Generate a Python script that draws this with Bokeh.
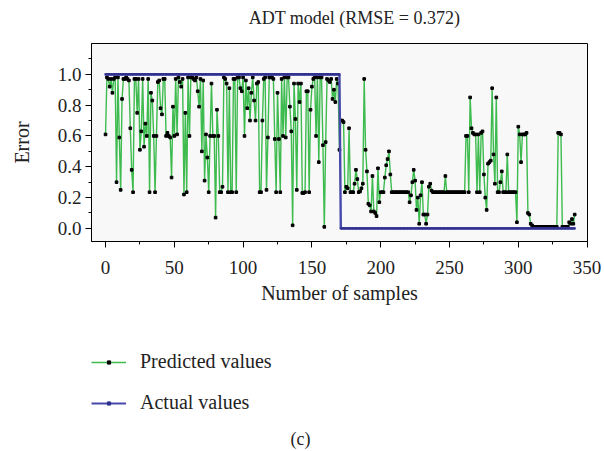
from bokeh.plotting import figure
from bokeh.layouts import column
from bokeh.models import (Range1d, SingleIntervalTicker, NumeralTickFormatter,
                          Legend, LegendItem, Label, ColumnDataSource)
from bokeh.embed import file_html
from bokeh.resources import INLINE

FONT = "Liberation Serif"

title_text = "ADT model (RMSE = 0.372)"
x_label = "Number of samples"
y_label = "Error"
series_names = ["Predicted values", "Actual values"]
panel_tag = "(c)"

predicted = [
    0.61, 0.98, 0.97, 0.92, 0.97, 0.88, 0.97, 0.98, 0.30, 0.98,
    0.59, 0.25, 0.84, 0.97, 0.97, 0.98, 0.97, 0.96, 0.65, 0.38,
    0.235, 0.97, 0.97, 0.75, 0.97, 0.51, 0.63, 0.97, 0.53, 0.68,
    0.60, 0.97, 0.235, 0.88, 0.83, 0.60, 0.235, 0.60, 0.95, 0.96,
    0.78, 0.74, 0.97, 0.97, 0.60, 0.62, 0.60, 0.59, 0.33, 0.79,
    0.60, 0.97, 0.61, 0.98, 0.95, 0.92, 0.97, 0.22, 0.75, 0.235,
    0.98, 0.60, 0.98, 0.98, 0.97, 0.96, 0.98, 0.89, 0.79, 0.97,
    0.50, 0.96, 0.31, 0.61, 0.46, 0.235, 0.60, 0.94, 0.60, 0.60,
    0.07, 0.77, 0.60, 0.235, 0.235, 0.27, 0.98, 0.97, 0.94, 0.235,
    0.91, 0.235, 0.235, 0.97, 0.97, 0.235, 0.98, 0.98, 0.91, 0.89,
    0.98, 0.60, 0.96, 0.78, 0.91, 0.70, 0.88, 0.98, 0.83, 0.70,
    0.94, 0.95, 0.235, 0.235, 0.70, 0.97, 0.98, 0.25, 0.59, 0.98,
    0.98, 0.98, 0.97, 0.58, 0.235, 0.88, 0.58, 0.235, 0.97, 0.60,
    0.98, 0.59, 0.98, 0.98, 0.79, 0.63, 0.02, 0.94, 0.71, 0.25,
    0.94, 0.82, 0.94, 0.23, 0.23, 0.235, 0.89, 0.89, 0.235, 0.77,
    0.92, 0.97, 0.98, 0.60, 0.98, 0.43, 0.98, 0.98, 0.54, 0.01,
    0.56, 0.97, 0.96, 0.95, 0.97, 0.84, 0.90, 0.82, 0.97, 0.94,
    0.51, 0.70, 0.70, 0.69, 0.235, 0.27, 0.26, 0.65, 0.235, 0.235,
    0.235, 0.29, 0.38, 0.32, 0.235, 0.24, 0.26, 0.29, 0.97, 0.51,
    0.37, 0.16, 0.15, 0.11, 0.34, 0.11, 0.10, 0.08, 0.39, 0.17,
    0.235, 0.235, 0.235, 0.33, 0.41, 0.45, 0.50, 0.35, 0.235, 0.235,
    0.235, 0.235, 0.235, 0.235, 0.235, 0.235, 0.235, 0.235, 0.235, 0.235,
    0.235, 0.17, 0.215, 0.30, 0.38, 0.31, 0.12, 0.20, 0.03, 0.215,
    0.30, 0.09, 0.09, 0.03, 0.09, 0.27, 0.29, 0.245, 0.235, 0.235,
    0.235, 0.235, 0.235, 0.235, 0.235, 0.235, 0.235, 0.34, 0.235, 0.235,
    0.235, 0.235, 0.235, 0.235, 0.235, 0.235, 0.235, 0.235, 0.235, 0.235,
    0.235, 0.235, 0.60, 0.60, 0.235, 0.85, 0.65, 0.62, 0.61, 0.61,
    0.235, 0.61, 0.235, 0.62, 0.63, 0.35, 0.20, 0.12, 0.42, 0.43,
    0.44, 0.91, 0.48, 0.29, 0.85, 0.235, 0.235, 0.30, 0.37, 0.235,
    0.235, 0.235, 0.48, 0.235, 0.235, 0.235, 0.235, 0.235, 0.235, 0.04,
    0.66, 0.61, 0.43, 0.61, 0.61, 0.61, 0.62, 0.10, 0.09, 0.03,
    0.02, 0.01, 0.01, 0.01, 0.01, 0.01, 0.01, 0.01, 0.01, 0.01,
    0.01, 0.01, 0.01, 0.01, 0.01, 0.01, 0.01, 0.01, 0.01, 0.62,
    0.62, 0.61, 0.01, 0.01, 0.01, 0.01, 0.01, 0.04, 0.03, 0.06,
    0.03, 0.09,
]

actual = [
    1, 1, 1, 1, 1, 1, 1, 1, 1, 1, 1, 1, 1, 1, 1, 1, 1, 1, 1, 1,
    1, 1, 1, 1, 1, 1, 1, 1, 1, 1, 1, 1, 1, 1, 1, 1, 1, 1, 1, 1,
    1, 1, 1, 1, 1, 1, 1, 1, 1, 1, 1, 1, 1, 1, 1, 1, 1, 1, 1, 1,
    1, 1, 1, 1, 1, 1, 1, 1, 1, 1, 1, 1, 1, 1, 1, 1, 1, 1, 1, 1,
    1, 1, 1, 1, 1, 1, 1, 1, 1, 1, 1, 1, 1, 1, 1, 1, 1, 1, 1, 1,
    1, 1, 1, 1, 1, 1, 1, 1, 1, 1, 1, 1, 1, 1, 1, 1, 1, 1, 1, 1,
    1, 1, 1, 1, 1, 1, 1, 1, 1, 1, 1, 1, 1, 1, 1, 1, 1, 1, 1, 1,
    1, 1, 1, 1, 1, 1, 1, 1, 1, 1, 1, 1, 1, 1, 1, 1, 1, 1, 1, 1,
    1, 1, 1, 1, 1, 1, 1, 1, 1, 1, 1,
    0, 0, 0, 0, 0, 0, 0, 0, 0,
    0, 0, 0, 0, 0, 0, 0, 0, 0, 0, 0, 0, 0, 0, 0, 0, 0, 0, 0, 0,
    0, 0, 0, 0, 0, 0, 0, 0, 0, 0, 0, 0, 0, 0, 0, 0, 0, 0, 0, 0,
    0, 0, 0, 0, 0, 0, 0, 0, 0, 0, 0, 0, 0, 0, 0, 0, 0, 0, 0, 0,
    0, 0, 0, 0, 0, 0, 0, 0, 0, 0, 0, 0, 0, 0, 0, 0, 0, 0, 0, 0,
    0, 0, 0, 0, 0, 0, 0, 0, 0, 0, 0, 0, 0, 0, 0, 0, 0, 0, 0, 0,
    0, 0, 0, 0, 0, 0, 0, 0, 0, 0, 0, 0, 0, 0, 0, 0, 0, 0, 0, 0,
    0, 0, 0, 0, 0, 0, 0, 0, 0, 0, 0, 0, 0, 0, 0, 0, 0, 0, 0, 0,
    0, 0, 0, 0, 0, 0, 0, 0, 0, 0, 0, 0, 0, 0, 0, 0, 0, 0, 0, 0,
    0, 0,
]

samples = list(range(len(predicted)))

src_pred = ColumnDataSource(dict(x=samples, y=predicted))
src_act = ColumnDataSource(dict(x=samples, y=actual))

GREEN = "#3dbb4e"
BLUE = "#4848ac"
TXT = "#222222"


def blank_strip(top, bottom):
    """A strip without axes whose data units are page pixels; its frame
    lines up with the main frame horizontally (91..587)."""
    f = figure(width=604, height=bottom - top, output_backend="svg",
               toolbar_location=None, x_range=Range1d(91, 587),
               y_range=Range1d(bottom, top), min_border=0,
               x_axis_type=None, y_axis_type=None)
    f.outline_line_color = None
    f.background_fill_color = "white"
    f.border_fill_color = "white"
    f.xgrid.visible = False
    f.ygrid.visible = False
    return f


# title strip
TOP_H = 41
t = blank_strip(0, TOP_H)
t.add_layout(Label(x=354, y=17, text=title_text, text_font=FONT,
                   text_font_size="18px", text_color=TXT,
                   text_align="center", text_baseline="middle"))

# main chart
MAIN_H = 340 - TOP_H
p = figure(width=604, height=MAIN_H, output_backend="svg", toolbar_location=None,
           x_range=Range1d(-10.2, 350.3), y_range=Range1d(-0.085, 1.2),
           min_border_left=91, min_border_right=17, min_border_top=43 - TOP_H,
           min_border_bottom=340 - 241)
p.background_fill_color = "#f8f8f8"
p.border_fill_color = "white"
p.outline_line_color = "black"
p.outline_line_width = 1
p.xgrid.visible = False
p.ygrid.visible = False

p.line("x", "y", source=src_pred, line_color=GREEN, line_width=1.4)
p.scatter("x", "y", source=src_pred, marker="square", size=2.6,
          fill_color="black", line_color="black")
p.line("x", "y", source=src_act, line_color=BLUE, line_width=2.4)
p.scatter("x", "y", source=src_act, marker="square", size=2.2,
          fill_color="#303090", line_color="#303090", line_width=0)

for ax in (p.xaxis[0], p.yaxis[0]):
    ax.axis_line_color = "black"
    ax.major_tick_line_color = "black"
    ax.minor_tick_line_color = "black"
    ax.major_tick_in = 0
    ax.major_tick_out = 6
    ax.minor_tick_in = 0
    ax.minor_tick_out = 3
    ax.major_label_text_font = FONT
    ax.major_label_text_font_size = "19px"
    ax.major_label_text_color = TXT
    ax.axis_label_text_font = FONT
    ax.axis_label_text_font_size = "20px"
    ax.axis_label_text_font_style = "normal"
    ax.axis_label_text_color = TXT

p.xaxis.ticker = SingleIntervalTicker(interval=50, num_minor_ticks=2)
p.yaxis.ticker = SingleIntervalTicker(interval=0.2, num_minor_ticks=2)
p.yaxis.formatter = NumeralTickFormatter(format="0.0")
p.xaxis.formatter = NumeralTickFormatter(format="0")
p.xaxis.axis_label = x_label
p.yaxis.axis_label = y_label
p.xaxis.major_label_standoff = 13
p.xaxis.axis_label_standoff = 5
p.yaxis.major_label_standoff = 4
p.yaxis.axis_label_standoff = 22

# lower strip: legend and panel tag
q = blank_strip(340, 451)

offscreen = ColumnDataSource(dict(x=[-1000], y=[-1000]))
k_pl = q.line("x", "y", source=offscreen, line_color=GREEN, line_width=1.4)
k_ps = q.scatter("x", "y", source=offscreen, marker="square",
                 fill_color="black", line_color="black")
k_al = q.line("x", "y", source=offscreen, line_color=BLUE, line_width=2.0)
k_as = q.scatter("x", "y", source=offscreen, marker="square",
                 fill_color="#303090", line_color="#303090")

legend = Legend(items=[LegendItem(label=series_names[0], renderers=[k_pl, k_ps]),
                       LegendItem(label=series_names[1], renderers=[k_al, k_as])],
                location=(0, 37),
                orientation="vertical",
                padding=0, margin=0, spacing=18,
                glyph_width=35, glyph_height=8, label_height=20,
                label_standoff=14,
                label_text_font=FONT, label_text_font_size="20px",
                label_text_color=TXT,
                border_line_alpha=0, background_fill_alpha=0)
q.add_layout(legend, "center")

q.add_layout(Label(x=300, y=438, text=panel_tag, text_font=FONT,
                   text_font_size="18px", text_color=TXT,
                   text_align="center", text_baseline="middle"))

layout = column(t, p, q, spacing=0)
open("out.html", "w").write(file_html(layout, INLINE))
